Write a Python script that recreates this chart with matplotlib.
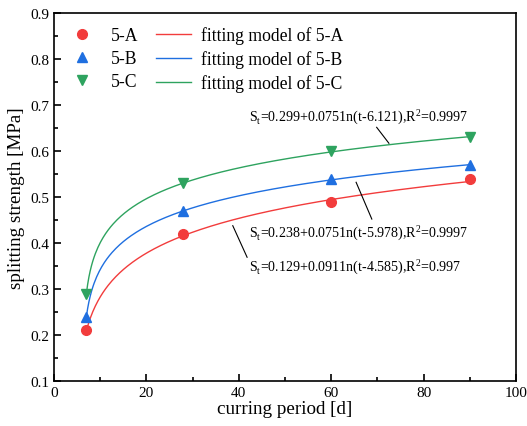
import numpy as np
from matplotlib import pyplot as plt
from matplotlib.ticker import MultipleLocator

# measured points
days = [7, 28, 60, 90]
strength_a = [0.21, 0.42, 0.49, 0.54]
strength_b = [0.24, 0.47, 0.54, 0.57]
strength_c = [0.29, 0.53, 0.60, 0.63]

# fitted model St = a + b*ln(t - c)
fit_a = (0.129, 0.091, 4.585)
fit_b = (0.238, 0.075, 5.978)
fit_c = (0.299, 0.075, 6.121)

labels = ["5-A", "5-B", "5-C"]
eq_texts = [
    "S$_\\mathregular{t}$=0.129+0.0911n(t-4.585),R$^\\mathregular{2}$=0.997",
    "S$_\\mathregular{t}$=0.238+0.0751n(t-5.978),R$^\\mathregular{2}$=0.9997",
    "S$_\\mathregular{t}$=0.299+0.0751n(t-6.121),R$^\\mathregular{2}$=0.9997",
]


def main() -> None:
    plt.rcParams["font.family"] = "Liberation Serif"
    plt.rcParams["mathtext.fontset"] = "custom"
    plt.rcParams["mathtext.rm"] = "Liberation Serif"

    colors = ["#f23c3c", "#1f6fe0", "#2ea35f"]
    markers = ["o", "^", "v"]

    fig = plt.figure(figsize=(5.27, 4.27), dpi=100)
    ax = fig.add_axes([0.1025, 0.1054, 0.8765, 0.8618])

    t = np.linspace(7, 90, 300)
    pts = []
    lines = []
    for data, fit, color, marker, label in zip(
        [strength_a, strength_b, strength_c], [fit_a, fit_b, fit_c], colors, markers, labels
    ):
        a, b, c = fit
        (ln,) = ax.plot(t, a + b * np.log(t - c), color=color, lw=1.0, label="fitting model of " + label)
        (pt,) = ax.plot(days, data, linestyle="none", marker=marker, color=color, markersize=7, label=label)
        pts.append(pt)
        lines.append(ln)

    ax.legend(handles=pts + lines, ncol=2, loc="upper left", bbox_to_anchor=(0.0, 0.992),
              frameon=False, fontsize=12.7, handlelength=2.0, columnspacing=1.0,
              labelspacing=0.33, handletextpad=0.6, borderaxespad=0.2, borderpad=0.4)

    # equation annotations with leader lines
    ax.text(42.2, 0.351, eq_texts[0], fontsize=10.1, va="center")
    ax.plot([38.7, 41.8], [0.4376, 0.369], color="black", lw=0.8)
    ax.text(42.2, 0.425, eq_texts[1], fontsize=10.1, va="center")
    ax.plot([65.4, 68.8], [0.532, 0.452], color="black", lw=0.8)
    ax.text(42.2, 0.677, eq_texts[2], fontsize=10.1, va="center")
    ax.plot([69.85, 72.5], [0.6515, 0.6168], color="black", lw=0.8)

    ax.set_xlim(0, 100)
    ax.set_ylim(0.1, 0.9)
    ax.xaxis.set_major_locator(MultipleLocator(20))
    ax.xaxis.set_minor_locator(MultipleLocator(10))
    ax.yaxis.set_major_locator(MultipleLocator(0.1))
    ax.yaxis.set_minor_locator(MultipleLocator(0.05))
    ax.tick_params(which="both", direction="in", labelsize=11, width=1.2)
    ax.tick_params(which="major", length=5)
    ax.tick_params(which="minor", length=3)
    for s in ax.spines.values():
        s.set_linewidth(1.2)

    ax.set_xlabel("curring period [d]", fontsize=13.7, labelpad=1)
    ax.set_ylabel("splitting strength [MPa]", fontsize=13.7, labelpad=4)

    fig.savefig("out.png", dpi=100)


if __name__ == "__main__":
    main()
